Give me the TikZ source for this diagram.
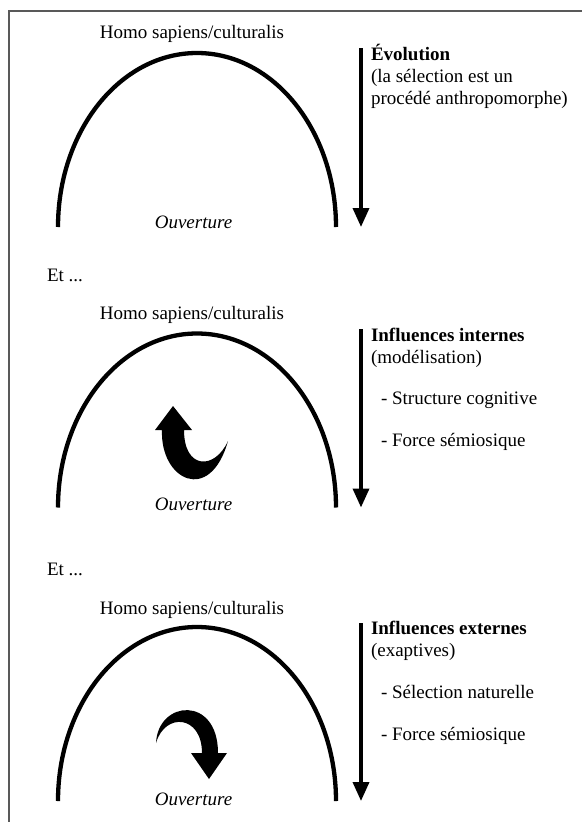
\documentclass[tikz,border=0pt]{standalone}
\usepackage{fontspec}
\setmainfont{Liberation Serif}
\usetikzlibrary{arrows.meta}
\begin{document}
\begin{tikzpicture}[x=1pt,y=-1pt,
  txt/.style={font=\fontsize{19}{22}\selectfont, inner sep=0pt, outer sep=0pt},
  arch/.style={line width=4.3pt},
  down/.style={line width=3.6pt, -{Triangle[width=16pt,length=19pt]}},
  curl/.style={fill=black},
  framel/.style={draw=black!65, line width=1.6pt}]
\useasboundingbox (0,0) rectangle (582,822);

% frame
\coordinate (fb) at (9,822);
\coordinate (fc) at (9,11);
\coordinate (fr) at (582,11);
\draw[framel] (fb) -- (fc) -- (fr);

% ---------- panel 1 ----------
\node[txt, anchor=base] (h1) at (192,38.5) {Homo sapiens/culturalis};
\draw[arch] (58,227) arc[start angle=180, end angle=0, x radius=139pt, y radius=174pt];
\node[txt, anchor=base] (o1) at (193.5,228.5) {\itshape Ouverture};
\coordinate (a1s) at (361,48);
\coordinate (a1e) at (361,227);
\draw[down] (a1s) -- (a1e);
\node[txt, anchor=base west] (t1a) at (371,60) {\bfseries Évolution};
\node[txt, anchor=base west] (t1b) at (371,82) {(la sélection est un};
\node[txt, anchor=base west] (t1c) at (371,104.5) {procédé anthropomorphe)};

\node[txt, anchor=base west] (et1) at (47,281) {Et ...};

% ---------- panel 2 ----------
\node[txt, anchor=base] (h2) at (192,319.5) {Homo sapiens/culturalis};
\draw[arch] (58,507.5) arc[start angle=180, end angle=0, x radius=139pt, y radius=174pt];
\node[txt, anchor=base] (o2) at (193.5,510) {\itshape Ouverture};
\coordinate (a2s) at (361,329);
\coordinate (a2e) at (361,507.5);
\draw[down] (a2s) -- (a2e);
\node[txt, anchor=base west] (t2a) at (371,341.5) {\bfseries Influences internes};
\node[txt, anchor=base west] (t2b) at (371,363.5) {(modélisation)};
\node[txt, anchor=base west] (t2c) at (381,404.5) {- Structure cognitive};
\node[txt, anchor=base west] (t2d) at (381,446) {- Force sémiosique};
% curling arrow (up)
\fill[curl] (162,430) .. controls (160,480) and (210,505) .. (228,441)
  .. controls (215,470) and (184,470) .. (184,430)
  -- (192,430) -- (173,406) -- (155,430) -- cycle;

\node[txt, anchor=base west] (et2) at (47,575) {Et ...};

% ---------- panel 3 ----------
\node[txt, anchor=base] (h3) at (192,614) {Homo sapiens/culturalis};
\draw[arch] (58,801) arc[start angle=180, end angle=0, x radius=139pt, y radius=174pt];
\node[txt, anchor=base] (o3) at (193.5,805) {\itshape Ouverture};
\coordinate (a3s) at (361,623);
\coordinate (a3e) at (361,801);
\draw[down] (a3s) -- (a3e);
\node[txt, anchor=base west] (t3a) at (371,634) {\bfseries Influences externes};
\node[txt, anchor=base west] (t3b) at (371,656) {(exaptives)};
\node[txt, anchor=base west] (t3c) at (381,698) {- Sélection naturelle};
\node[txt, anchor=base west] (t3d) at (381,740) {- Force sémiosique};
% curling arrow (down)
\fill[curl] (156,743) .. controls (158,700) and (218,695) .. (218,753)
  -- (227,753) -- (209,779) -- (191,753) -- (202,753)
  .. controls (202,715) and (165,712) .. (156,743) -- cycle;
\end{tikzpicture}
\end{document}
